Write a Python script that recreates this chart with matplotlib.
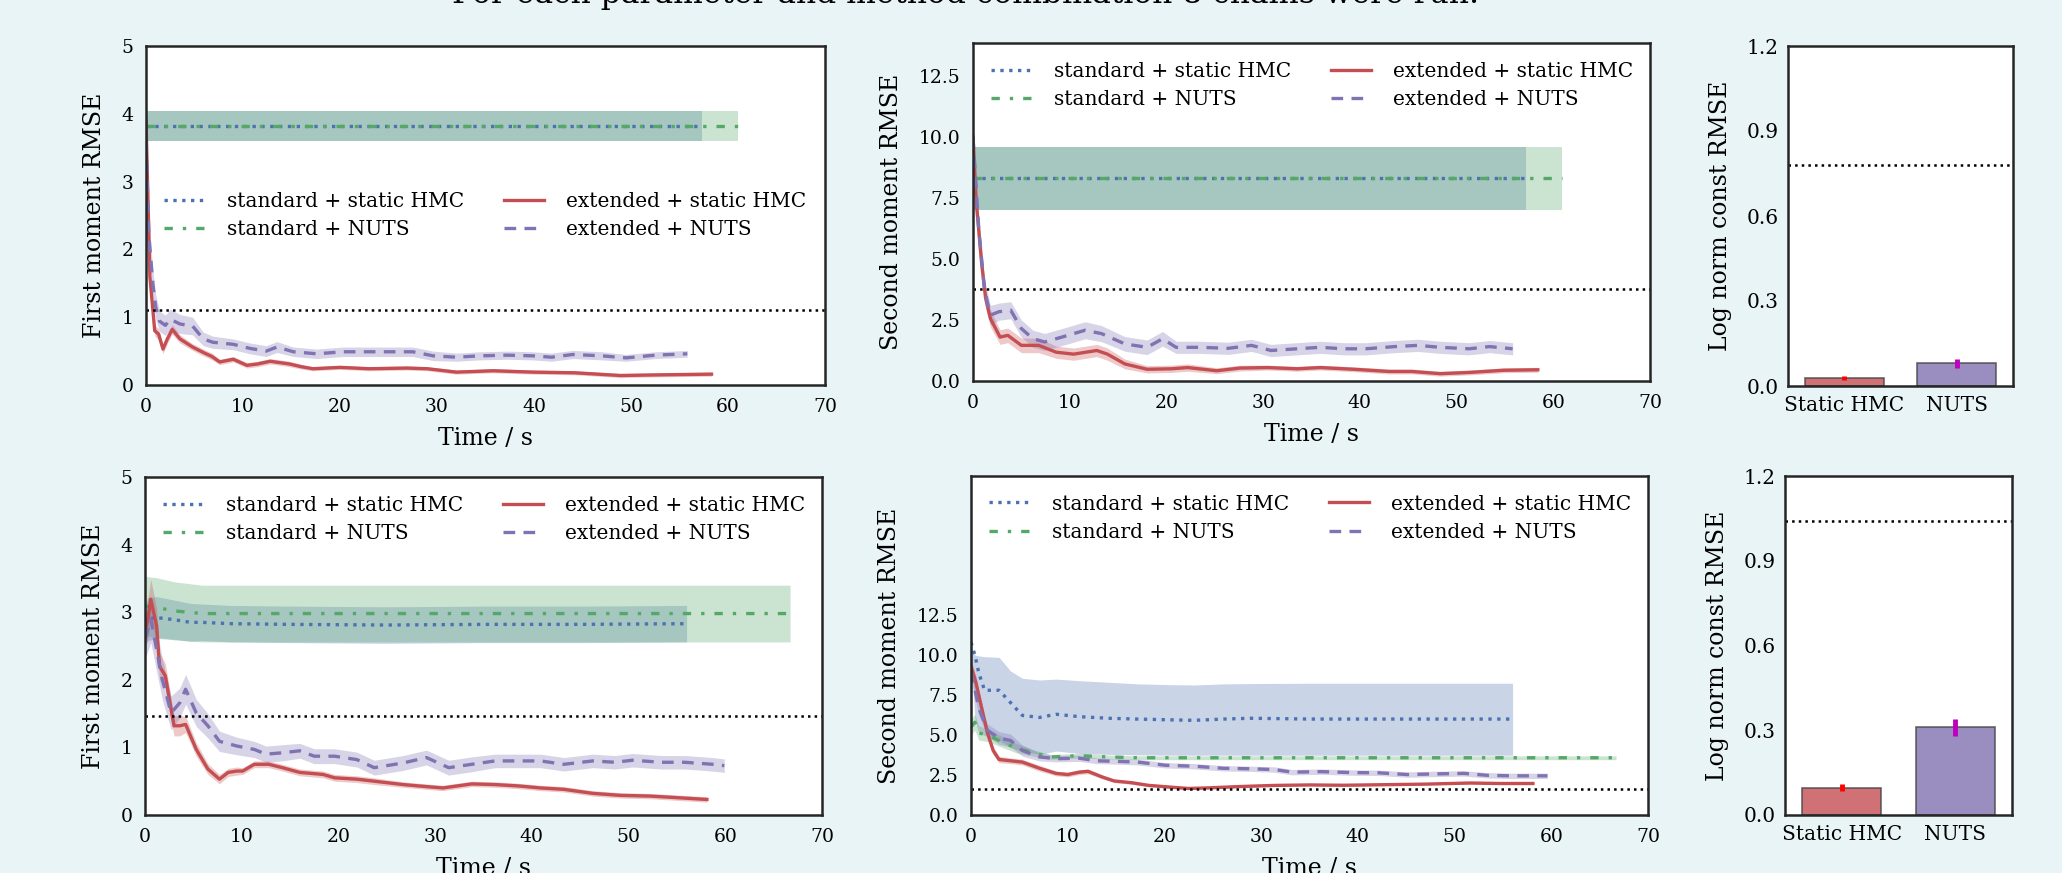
import matplotlib
matplotlib.use('Agg')
import matplotlib.pyplot as plt
import numpy as np

plt.rcParams['font.family'] = 'DejaVu Serif'

BG = '#e9f4f6'
BLUE, GREEN, RED, PURPLE = '#4c72b0', '#55a868', '#c44e52', '#8172b2'

labels = ['standard + static HMC', 'standard + NUTS',
          'extended + static HMC', 'extended + NUTS']

# ---------- top row: parameter set 1 ----------
# first moment
fm1_std_hmc_t = [0, 57.3]
fm1_std_hmc_y = [3.82, 3.82]
fm1_std_hmc_e = [0.22, 0.22]
fm1_std_nuts_t = [0, 61.0]
fm1_std_nuts_y = [3.82, 3.82]
fm1_std_nuts_e = [0.22, 0.22]
fm1_ext_hmc_t = [0, 0.4, 0.9, 1.3, 1.75, 2.2, 2.7, 3.5, 4.8, 5.9, 6.8, 7.6, 9.0, 10.4, 11.5,
                 12.8, 14.8, 16.0, 17.2, 20.0, 23.0, 26.9, 29.0, 32.0, 35.8, 39.9, 44.2,
                 48.9, 53.1, 58.3]
fm1_ext_hmc_y = [3.9, 1.6, 0.8, 0.75, 0.53, 0.68, 0.82, 0.68, 0.56, 0.48, 0.42, 0.34, 0.38,
                 0.29, 0.31, 0.35, 0.31, 0.27, 0.24, 0.26, 0.24, 0.25, 0.24, 0.19, 0.21,
                 0.19, 0.18, 0.14, 0.15, 0.16]
fm1_ext_hmc_e = [0.1, 0.1, 0.08, 0.08, 0.07, 0.07, 0.07, 0.06, 0.05, 0.05, 0.05, 0.04, 0.04,
                 0.04, 0.04, 0.04, 0.04, 0.035, 0.03, 0.03, 0.03, 0.03, 0.03, 0.03, 0.03,
                 0.03, 0.03, 0.03, 0.03, 0.03]
fm1_ext_nuts_t = [0, 0.3, 0.7, 1.0, 1.4, 2.0, 2.5, 3.5, 4.8, 5.9, 6.9, 9.0, 10.7, 12.4, 13.5,
                  15.2, 17.6, 20.3, 22.8, 25.5, 27.5, 29.6, 32.0, 34.4, 37.2, 39.9, 41.8,
                  44.0, 47.0, 49.5, 52.5, 55.8]
fm1_ext_nuts_y = [3.6, 2.2, 1.5, 1.15, 0.94, 0.88, 0.97, 0.9, 0.87, 0.68, 0.63, 0.6, 0.54,
                  0.5, 0.56, 0.49, 0.46, 0.49, 0.49, 0.49, 0.49, 0.43, 0.41, 0.43, 0.44,
                  0.43, 0.41, 0.45, 0.43, 0.4, 0.44, 0.46]
fm1_ext_nuts_e = [0.3, 0.25, 0.2, 0.18, 0.15, 0.15, 0.15, 0.14, 0.13, 0.1, 0.09, 0.08, 0.08,
                  0.08, 0.08, 0.07, 0.07, 0.07, 0.07, 0.07, 0.07, 0.07, 0.06, 0.06, 0.06,
                  0.06, 0.06, 0.06, 0.06, 0.05, 0.05, 0.05]
fm1_ref = 1.1

# second moment
sm1_std_hmc_t = [0, 57.2]
sm1_std_hmc_y = [8.3, 8.3]
sm1_std_hmc_e = [1.28, 1.28]
sm1_std_nuts_t = [0, 60.9]
sm1_std_nuts_y = [8.3, 8.3]
sm1_std_nuts_e = [1.28, 1.28]
sm1_ext_hmc_t = [0, 0.3, 0.9, 1.3, 1.8, 2.8, 3.6, 5.0, 6.8, 8.6, 10.4, 12.8, 13.9, 15.7, 18.0,
                 20.5, 22.2, 25.2, 27.6, 30.5, 33.5, 35.9, 39.4, 43.0, 45.4, 48.3, 51.3,
                 54.9, 58.4]
sm1_ext_hmc_y = [10.0, 7.5, 4.8, 3.4, 2.56, 1.8, 1.87, 1.46, 1.46, 1.18, 1.1, 1.25, 1.1, 0.7,
                 0.48, 0.5, 0.55, 0.42, 0.53, 0.55, 0.5, 0.55, 0.48, 0.39, 0.39, 0.3, 0.35,
                 0.44, 0.46]
sm1_ext_hmc_e = [0.5, 0.5, 0.45, 0.4, 0.35, 0.3, 0.3, 0.3, 0.3, 0.25, 0.25, 0.25, 0.25, 0.2,
                 0.15, 0.15, 0.15, 0.12, 0.12, 0.1, 0.1, 0.1, 0.1, 0.1, 0.1, 0.1, 0.1, 0.1,
                 0.1]
sm1_ext_nuts_t = [0, 0.6, 1.2, 1.8, 2.7, 3.9, 5.0, 6.2, 7.4, 9.2, 11.6, 13.3, 15.7, 18.0,
                  19.6, 21.0, 23.4, 26.4, 28.8, 30.8, 33.5, 35.9, 38.3, 40.6, 43.6, 46.0,
                  48.3, 51.3, 53.4, 55.8]
sm1_ext_nuts_y = [10.0, 6.2, 3.7, 2.7, 2.84, 2.9, 2.15, 1.73, 1.6, 1.8, 2.08, 1.94, 1.52,
                  1.38, 1.73, 1.38, 1.38, 1.34, 1.46, 1.25, 1.32, 1.38, 1.32, 1.32, 1.41,
                  1.46, 1.38, 1.32, 1.41, 1.32]
sm1_ext_nuts_e = [0.6, 0.5, 0.45, 0.4, 0.35, 0.35, 0.35, 0.35, 0.35, 0.35, 0.35, 0.33, 0.3,
                  0.3, 0.3, 0.25, 0.25, 0.25, 0.25, 0.25, 0.25, 0.25, 0.25, 0.25, 0.25,
                  0.25, 0.25, 0.25, 0.25, 0.25]
sm1_ref = 3.78

# ---------- bottom row: parameter set 2 ----------
fm2_std_hmc_t = [0, 0.3, 1.2, 3.0, 4.7, 5.9, 8.9, 15, 25, 35, 45, 56]
fm2_std_hmc_y = [2.82, 2.9, 2.92, 2.89, 2.85, 2.85, 2.83, 2.82, 2.81, 2.82, 2.82, 2.83]
fm2_std_hmc_e = [0.3, 0.32, 0.31, 0.29, 0.28, 0.27, 0.27, 0.27, 0.27, 0.27, 0.27, 0.27]
fm2_std_nuts_t = [0, 1.2, 3.0, 5.9, 10, 20, 30, 40, 50, 60, 66.7]
fm2_std_nuts_y = [3.09, 3.07, 3.02, 2.98, 2.98, 2.98, 2.98, 2.98, 2.98, 2.98, 2.98]
fm2_std_nuts_e = [0.44, 0.44, 0.43, 0.42, 0.42, 0.42, 0.42, 0.42, 0.42, 0.42, 0.42]
fm2_ext_hmc_t = [0, 0.3, 0.6, 1.2, 1.5, 2.1, 2.4, 3.0, 3.6, 4.2, 5.3, 6.5, 7.7, 8.6, 9.5, 10.1,
                 11.3, 12.8, 14.2, 16.0, 18.4, 19.6, 21.9, 23.7, 26.7, 29.1, 30.8, 33.8,
                 36.2, 38.6, 40.9, 43.3, 46.3, 49.2, 52.2, 54.6, 58.1]
fm2_ext_hmc_y = [2.7, 2.9, 3.19, 2.8, 2.2, 2.06, 1.81, 1.32, 1.32, 1.34, 0.97, 0.68, 0.53,
                 0.63, 0.65, 0.65, 0.75, 0.75, 0.7, 0.63, 0.6, 0.55, 0.53, 0.5, 0.45, 0.42,
                 0.4, 0.46, 0.45, 0.43, 0.4, 0.38, 0.32, 0.29, 0.28, 0.26, 0.23]
fm2_ext_hmc_e = [0.25, 0.3, 0.3, 0.25, 0.2, 0.18, 0.18, 0.15, 0.15, 0.12, 0.1, 0.08, 0.07,
                 0.06, 0.06, 0.05, 0.05, 0.05, 0.05, 0.05, 0.05, 0.05, 0.05, 0.05, 0.04,
                 0.04, 0.04, 0.04, 0.04, 0.04, 0.04, 0.04, 0.04, 0.04, 0.04, 0.04, 0.04]
fm2_ext_nuts_t = [0, 0.6, 1.8, 2.7, 3.6, 4.2, 5.3, 6.5, 7.7, 9.5, 11.3, 12.5, 14.2, 16.0,
                  17.5, 19.6, 21.9, 23.7, 26.7, 29.1, 31.4, 33.8, 36.2, 38.6, 40.9, 43.3,
                  46.3, 48.6, 50.4, 53.4, 55.8, 58.7, 59.9]
fm2_ext_nuts_y = [2.6, 2.9, 2.0, 1.51, 1.66, 1.86, 1.51, 1.32, 1.09, 1.02, 0.97, 0.9, 0.92,
                  0.95, 0.87, 0.87, 0.82, 0.7, 0.77, 0.85, 0.7, 0.75, 0.8, 0.8, 0.8, 0.75,
                  0.8, 0.78, 0.81, 0.78, 0.78, 0.75, 0.73]
fm2_ext_nuts_e = [0.3, 0.35, 0.3, 0.25, 0.22, 0.22, 0.2, 0.18, 0.15, 0.13, 0.12, 0.12, 0.12,
                  0.11, 0.11, 0.11, 0.11, 0.11, 0.11, 0.11, 0.11, 0.11, 0.1, 0.1, 0.1, 0.1,
                  0.1, 0.1, 0.1, 0.1, 0.1, 0.1, 0.1]
fm2_ref = 1.47

sm2_std_hmc_t = [0, 0.4, 0.8, 1.4, 2.9, 4.1, 5.3, 7.1, 8.8, 11.2, 14.2, 17.2, 20.7, 23.1,
                 26.1, 29.0, 35.0, 40.9, 46.9, 56.0]
sm2_std_hmc_y = [10.8, 10.0, 8.9, 7.8, 7.8, 7.02, 6.23, 6.1, 6.3, 6.15, 6.05, 6.0, 5.95,
                 5.92, 6.0, 6.05, 6.0, 6.0, 6.0, 6.0]
sm2_std_hmc_lo = [10.0, 6.0, 5.13, 4.97, 4.66, 4.2, 4.0, 3.79, 4.0, 3.85, 3.79, 3.76, 3.74,
                  3.74, 3.74, 3.74, 3.74, 3.74, 3.74, 3.74]
sm2_std_hmc_hi = [10.5, 10.0, 9.95, 9.9, 9.86, 9.0, 8.55, 8.44, 8.5, 8.4, 8.3, 8.2, 8.15,
                  8.13, 8.2, 8.22, 8.24, 8.24, 8.24, 8.24]
sm2_std_nuts_t = [0, 0.4, 0.8, 1.7, 2.9, 4.7, 6.5, 8.3, 11.2, 14.2, 17.2, 25, 35, 45, 55, 66.7]
sm2_std_nuts_y = [5.5, 5.8, 5.13, 5.0, 4.66, 4.18, 3.87, 3.63, 3.71, 3.63, 3.58, 3.58, 3.58,
                  3.58, 3.58, 3.58]
sm2_std_nuts_e = [0.5, 0.5, 0.45, 0.4, 0.35, 0.3, 0.2, 0.15, 0.15, 0.12, 0.12, 0.12, 0.12,
                  0.12, 0.12, 0.12]
sm2_ext_hmc_t = [0, 0.5, 1.1, 1.7, 2.3, 2.9, 4.1, 5.3, 7.1, 8.8, 10.0, 11.2, 12.1, 13.6, 14.8,
                 16.6, 18.4, 20.7, 22.5, 24.3, 27.8, 31.4, 35.0, 38.5, 42.1, 46.9, 51.6,
                 54.6, 58.1]
sm2_ext_hmc_y = [9.3, 8.3, 6.7, 5.13, 4.02, 3.47, 3.39, 3.31, 2.92, 2.6, 2.53, 2.68, 2.73,
                 2.37, 2.13, 2.02, 1.85, 1.74, 1.66, 1.69, 1.78, 1.85, 1.88, 1.86, 1.89,
                 1.93, 2.0, 1.97, 1.97]
sm2_ext_hmc_e = [0.4, 0.4, 0.35, 0.3, 0.25, 0.2, 0.18, 0.18, 0.18, 0.15, 0.15, 0.15, 0.15,
                 0.12, 0.1, 0.1, 0.08, 0.07, 0.06, 0.05, 0.05, 0.05, 0.05, 0.05, 0.05, 0.05,
                 0.05, 0.05, 0.05]
sm2_ext_nuts_t = [0, 0.8, 1.7, 2.9, 4.1, 5.3, 7.1, 8.8, 11.2, 13.0, 14.8, 17.2, 20.1, 23.1,
                  26.1, 29.0, 31.4, 33.2, 36.2, 39.7, 42.1, 45.1, 48.0, 51.0, 53.4, 55.8,
                  59.6]
sm2_ext_nuts_y = [9.0, 6.7, 5.29, 4.81, 4.66, 4.03, 3.63, 3.52, 3.55, 3.39, 3.36, 3.31, 3.11,
                  3.05, 2.92, 2.89, 2.84, 2.68, 2.71, 2.65, 2.64, 2.53, 2.57, 2.6, 2.48,
                  2.45, 2.45]
sm2_ext_nuts_e = [0.5, 0.45, 0.4, 0.4, 0.4, 0.35, 0.25, 0.2, 0.2, 0.18, 0.18, 0.18, 0.17,
                  0.17, 0.17, 0.17, 0.17, 0.17, 0.17, 0.17, 0.17, 0.17, 0.17, 0.17, 0.17,
                  0.17, 0.17]
sm2_ref = 1.61

# ---------- log normalising constant bars ----------
bar_labels = ['Static HMC', 'NUTS']
lnc1_vals = [0.028, 0.08]
lnc1_errs = [0.006, 0.017]
lnc1_ref = 0.78
lnc2_vals = [0.097, 0.31]
lnc2_errs = [0.012, 0.03]
lnc2_ref = 1.04

title = 'For each parameter and method combination 8 chains were run.'

styles = [dict(color=BLUE, ls=':'),
          dict(color=GREEN, ls=(0, (2.5, 3, 1, 3))),
          dict(color=RED, ls='-'),
          dict(color=PURPLE, ls=(0, (3.5, 2.5)))]


def sym(t, y, e):
    y = np.array(y)
    e = np.array(e)
    return t, y, y - e, y + e


def line_panel(ax, series, ref, ylim, yticks, legend_y):
    for (t, y, lo, hi), st in zip(series, styles):
        ax.fill_between(t, lo, hi, color=st['color'], alpha=0.3, lw=0)
    handles = []
    for (t, y, lo, hi), st, lab in zip(series, styles, labels):
        h, = ax.plot(t, y, color=st['color'], ls=st['ls'], lw=2.4, label=lab)
        handles.append(h)
    ax.axhline(ref, color='k', ls=':', lw=1.8)
    ax.set_xlim(0, 70)
    ax.set_ylim(*ylim)
    ax.set_yticks(yticks)
    ax.set_xlabel('Time / s', fontsize=17, labelpad=8)
    ax.tick_params(labelsize=13.5, length=0, pad=9)
    ax.legend(handles=handles, ncol=2, loc='center left', bbox_to_anchor=(0.0, legend_y),
              frameon=False, fontsize=14.5, handlelength=2.0, handletextpad=1.1,
              columnspacing=2.0, labelspacing=0.45)


def bar_panel(ax, vals, errs, ref):
    x = np.arange(len(vals))
    ax.bar(x, vals, width=0.7, color=[RED, PURPLE], alpha=0.8, edgecolor='#444444', lw=1.2)
    ax.errorbar(x[0], vals[0], yerr=errs[0], fmt='none', ecolor='r', elinewidth=3.5, capsize=0)
    ax.errorbar(x[1], vals[1], yerr=errs[1], fmt='none', ecolor='m', elinewidth=3.5, capsize=0)
    ax.axhline(ref, color='k', ls=':', lw=1.8)
    ax.set_xlim(-0.5, 1.5)
    ax.set_ylim(0, 1.2)
    ax.set_yticks([0.0, 0.3, 0.6, 0.9, 1.2])
    ax.set_yticklabels(['0.0', '0.3', '0.6', '0.9', '1.2'])
    ax.set_xticks(x)
    ax.set_xticklabels(bar_labels)
    ax.set_ylabel('Log norm const RMSE', fontsize=17, labelpad=10)
    ax.tick_params(labelsize=14.5, length=0, pad=7)


W, H = 2062, 873
fig = plt.figure(figsize=(W / 100, H / 100), dpi=100, facecolor=BG)


def add_ax(x0, y0, x1, y1):
    return fig.add_axes([x0 / W, 1 - y1 / H, (x1 - x0) / W, (y1 - y0) / H])


ax_fm1 = add_ax(146, 46, 825, 385)
ax_sm1 = add_ax(973, 43, 1650, 381)
ax_ln1 = add_ax(1788, 46, 2013, 386)
ax_fm2 = add_ax(145, 477, 822, 815)
ax_sm2 = add_ax(971, 476, 1648, 815)
ax_ln2 = add_ax(1785, 476, 2012, 815)

for ax in [ax_fm1, ax_sm1, ax_ln1, ax_fm2, ax_sm2, ax_ln2]:
    ax.set_facecolor('white')
    for sp in ax.spines.values():
        sp.set_color('#262626')
        sp.set_linewidth(1.8)

line_panel(ax_fm1,
           [sym(fm1_std_hmc_t, fm1_std_hmc_y, fm1_std_hmc_e),
            sym(fm1_std_nuts_t, fm1_std_nuts_y, fm1_std_nuts_e),
            sym(fm1_ext_hmc_t, fm1_ext_hmc_y, fm1_ext_hmc_e),
            sym(fm1_ext_nuts_t, fm1_ext_nuts_y, fm1_ext_nuts_e)],
           fm1_ref, (0, 5), [0, 1, 2, 3, 4, 5], 0.5)
ax_fm1.set_ylabel('First moment RMSE', fontsize=17, labelpad=11)

line_panel(ax_sm1,
           [sym(sm1_std_hmc_t, sm1_std_hmc_y, sm1_std_hmc_e),
            sym(sm1_std_nuts_t, sm1_std_nuts_y, sm1_std_nuts_e),
            sym(sm1_ext_hmc_t, sm1_ext_hmc_y, sm1_ext_hmc_e),
            sym(sm1_ext_nuts_t, sm1_ext_nuts_y, sm1_ext_nuts_e)],
           sm1_ref, (0, 13.85), [0, 2.5, 5, 7.5, 10, 12.5], 0.874)
ax_sm1.set_yticklabels(['0.0', '2.5', '5.0', '7.5', '10.0', '12.5'])
ax_sm1.set_ylabel('Second moment RMSE', fontsize=17, labelpad=11)

line_panel(ax_fm2,
           [sym(fm2_std_hmc_t, fm2_std_hmc_y, fm2_std_hmc_e),
            sym(fm2_std_nuts_t, fm2_std_nuts_y, fm2_std_nuts_e),
            sym(fm2_ext_hmc_t, fm2_ext_hmc_y, fm2_ext_hmc_e),
            sym(fm2_ext_nuts_t, fm2_ext_nuts_y, fm2_ext_nuts_e)],
           fm2_ref, (0, 5), [0, 1, 2, 3, 4, 5], 0.875)
ax_fm2.set_ylabel('First moment RMSE', fontsize=17, labelpad=11)

line_panel(ax_sm2,
           [(sm2_std_hmc_t, sm2_std_hmc_y, sm2_std_hmc_lo, sm2_std_hmc_hi),
            sym(sm2_std_nuts_t, sm2_std_nuts_y, sm2_std_nuts_e),
            sym(sm2_ext_hmc_t, sm2_ext_hmc_y, sm2_ext_hmc_e),
            sym(sm2_ext_nuts_t, sm2_ext_nuts_y, sm2_ext_nuts_e)],
           sm2_ref, (0, 21.2), [0, 2.5, 5, 7.5, 10, 12.5], 0.876)
ax_sm2.set_yticklabels(['0.0', '2.5', '5.0', '7.5', '10.0', '12.5'])
ax_sm2.set_ylabel('Second moment RMSE', fontsize=17, labelpad=11)

bar_panel(ax_ln1, lnc1_vals, lnc1_errs, lnc1_ref)
bar_panel(ax_ln2, lnc2_vals, lnc2_errs, lnc2_ref)

fig.text(966 / W, 1 - 3 / H, title, ha='center', va='baseline', fontsize=22.6)

fig.savefig('out.png', dpi=100, facecolor=BG)
